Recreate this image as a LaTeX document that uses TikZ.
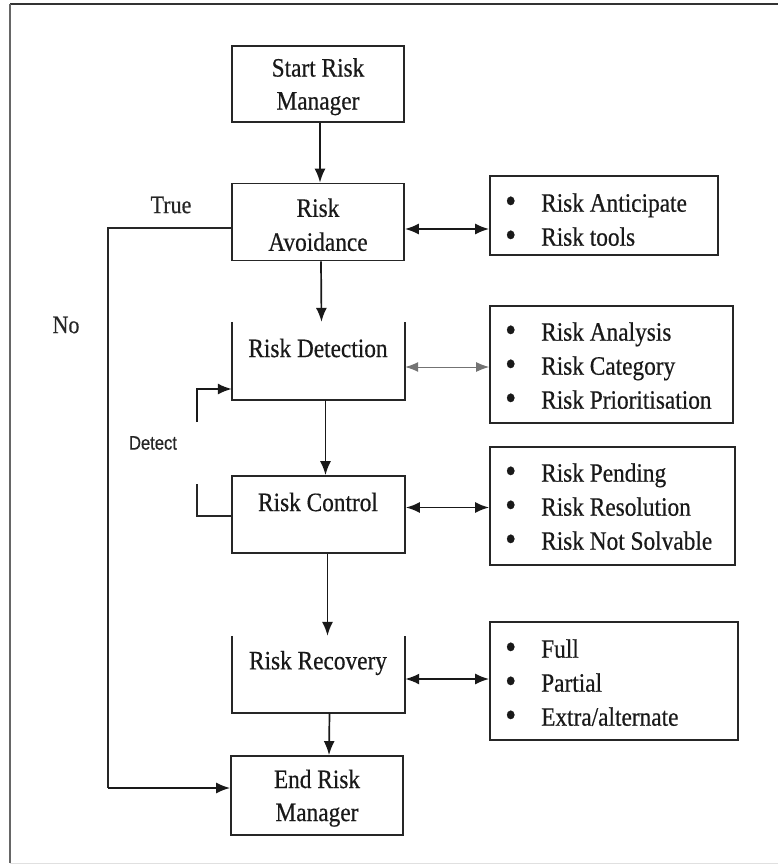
\documentclass[tikz,border=0pt]{standalone}
\usepackage{fontspec}
\usepackage{graphicx}
\setmainfont{Liberation Serif}[FakeStretch=0.88,FakeBold=0.5]
\newfontfamily\detfont{Liberation Sans}[FakeStretch=0.85,FakeBold=0.4]
\usetikzlibrary{arrows.meta}
\tikzset{
  txt/.style={font=\fontsize{26.5}{34}\selectfont, text=black!90},
  cbox/.style={draw=black!85, line width=1.8pt, minimum width=172pt, inner sep=0pt},
  obox/.style={minimum width=173pt, inner sep=0pt},
  rbox/.style={draw=black!85, line width=1.8pt, inner sep=0pt},
  rtxt/.style={txt, align=left, anchor=west, inner sep=0pt},
  arr/.style={draw=black!90, line width=1.7pt, -{Latex[length=14pt,width=11pt]}},
  darr/.style={draw=black!90, line width=1.8pt, {Latex[length=14pt,width=11pt]}-{Latex[length=14pt,width=11pt]}},
  tdarr/.style={draw=black!55, line width=1pt, {Latex[length=13pt,width=10pt]}-{Latex[length=13pt,width=10pt]}},
  ln/.style={draw=black!85, line width=1.7pt},
  lbl/.style={font=\fontsize{25}{30}\selectfont, text=black!85, inner sep=0pt},
}
\newcommand{\bitem}[1]{\makebox[36pt][l]{\raisebox{-1pt}{\scalebox{1.35}{\textbullet}}}#1}
\begin{document}
\begin{tikzpicture}[x=1pt,y=-1pt]
\useasboundingbox (0,0) rectangle (778,865);
% frame
\draw[black!80, line width=2.4pt] (10,4) -- (778,4);
\draw[black!60, line width=1.4pt] (10,4) -- (10,863);
\draw[black!12, line width=1pt] (10,863) -- (778,863);

% central boxes
\node[cbox, minimum height=76pt, align=center, txt] (start) at (318,84) {\strut Start Risk\\[-1pt]Manager};
\node[cbox, minimum height=77pt, align=center, txt] (avoid) at (318,222) {\strut Risk\\Avoidance};
\node[obox, minimum height=78pt] (det) at (318.5,361) {};
\node[txt, inner sep=0pt] (detT) at (318,348) {Risk Detection};
\node[cbox, minimum height=77pt, minimum width=173pt] (ctl) at (318.5,514.5) {};
\node[txt, inner sep=0pt] (ctlT) at (318,502) {Risk Control};
\node[obox, minimum height=77pt] (rec) at (318.5,674.5) {};
\node[txt, inner sep=0pt] (recT) at (318,663) {Risk Recovery};
\node[cbox, minimum height=79pt, align=center, txt] (end) at (317,795.5) {\strut End Risk\\[-1pt]Manager};

% open boxes
\draw[ln] (det.north west) -- (det.south west) -- (det.south east) -- (det.north east);
\draw[ln] (rec.north west) -- (rec.south west) -- (rec.south east) -- (rec.north east);

% right boxes
\node[rbox, minimum width=228pt, minimum height=79pt] (r1) at (604,215.5) {};
\node[rtxt] (r1T) at (505,220) {\bitem{Risk Anticipate}\\\bitem{Risk tools}};
\node[rbox, minimum width=243pt, minimum height=117pt] (r2) at (611.5,364.5) {};
\node[rtxt] (r2T) at (505,366) {\bitem{Risk Analysis}\\\bitem{Risk Category}\\\bitem{Risk Prioritisation}};
\node[rbox, minimum width=245pt, minimum height=118pt] (r3) at (612.5,506) {};
\node[rtxt] (r3T) at (505,507) {\bitem{Risk Pending}\\\bitem{Risk Resolution}\\\bitem{Risk Not Solvable}};
\node[rbox, minimum width=248pt, minimum height=118pt] (r4) at (614,681) {};
\node[rtxt] (r4T) at (505,683) {\bitem{Full}\\\bitem{Partial}\\\bitem{Extra/alternate}};

% labels
\node[lbl] (true) at (171,205) {True};
\node[lbl] (no) at (66,325) {No};
\node[font=\detfont\fontsize{19.5}{22}\selectfont, text=black!85, inner sep=0pt] (detect) at (153,443) {Detect};

% vertical flow
\draw[arr] ([xshift=2pt]start.south) -- ([xshift=2pt]avoid.north);
\draw[arr] ([xshift=3pt]avoid.south) -- ([xshift=3pt]det.north);
\draw[arr] ([xshift=7pt]det.south) -- ([xshift=7pt]ctl.north);
\draw[arr] ([xshift=9pt]ctl.south) -- ([xshift=9pt]rec.north);
\draw[arr] ([xshift=11pt]rec.south) -- ([xshift=12pt]end.north);

% double arrows
\draw[darr] ([yshift=-7pt]avoid.east) -- ([yshift=-7pt]avoid.east -| r1.west);
\draw[tdarr] ([yshift=-6pt]det.east) -- ([yshift=-6pt]det.east -| r2.west);
\draw[darr] ([yshift=7pt]ctl.east) -- ([yshift=7pt]ctl.east -| r3.west);
\draw[darr] ([yshift=-4.5pt]rec.east) -- ([yshift=-4.5pt]rec.east -| r4.west);

% No loop
\coordinate (nTop) at (108,228);
\coordinate (nBot) at (108,788);
\draw[ln] ([yshift=-6pt]avoid.west) -- (nTop) -- (nBot);
\draw[arr] (nBot) -- (nBot -| end.west);

% Detect loop
\coordinate (dC) at (197,516);
\coordinate (dA) at (197,484);
\coordinate (dB) at (197,422);
\coordinate (dD) at (197,389);
\draw[ln] (ctl.west |- dC) -- (dC) -- (dA);
\draw[arr] (dB) -- (dD) -- (dD -| det.west);
\end{tikzpicture}
\end{document}
